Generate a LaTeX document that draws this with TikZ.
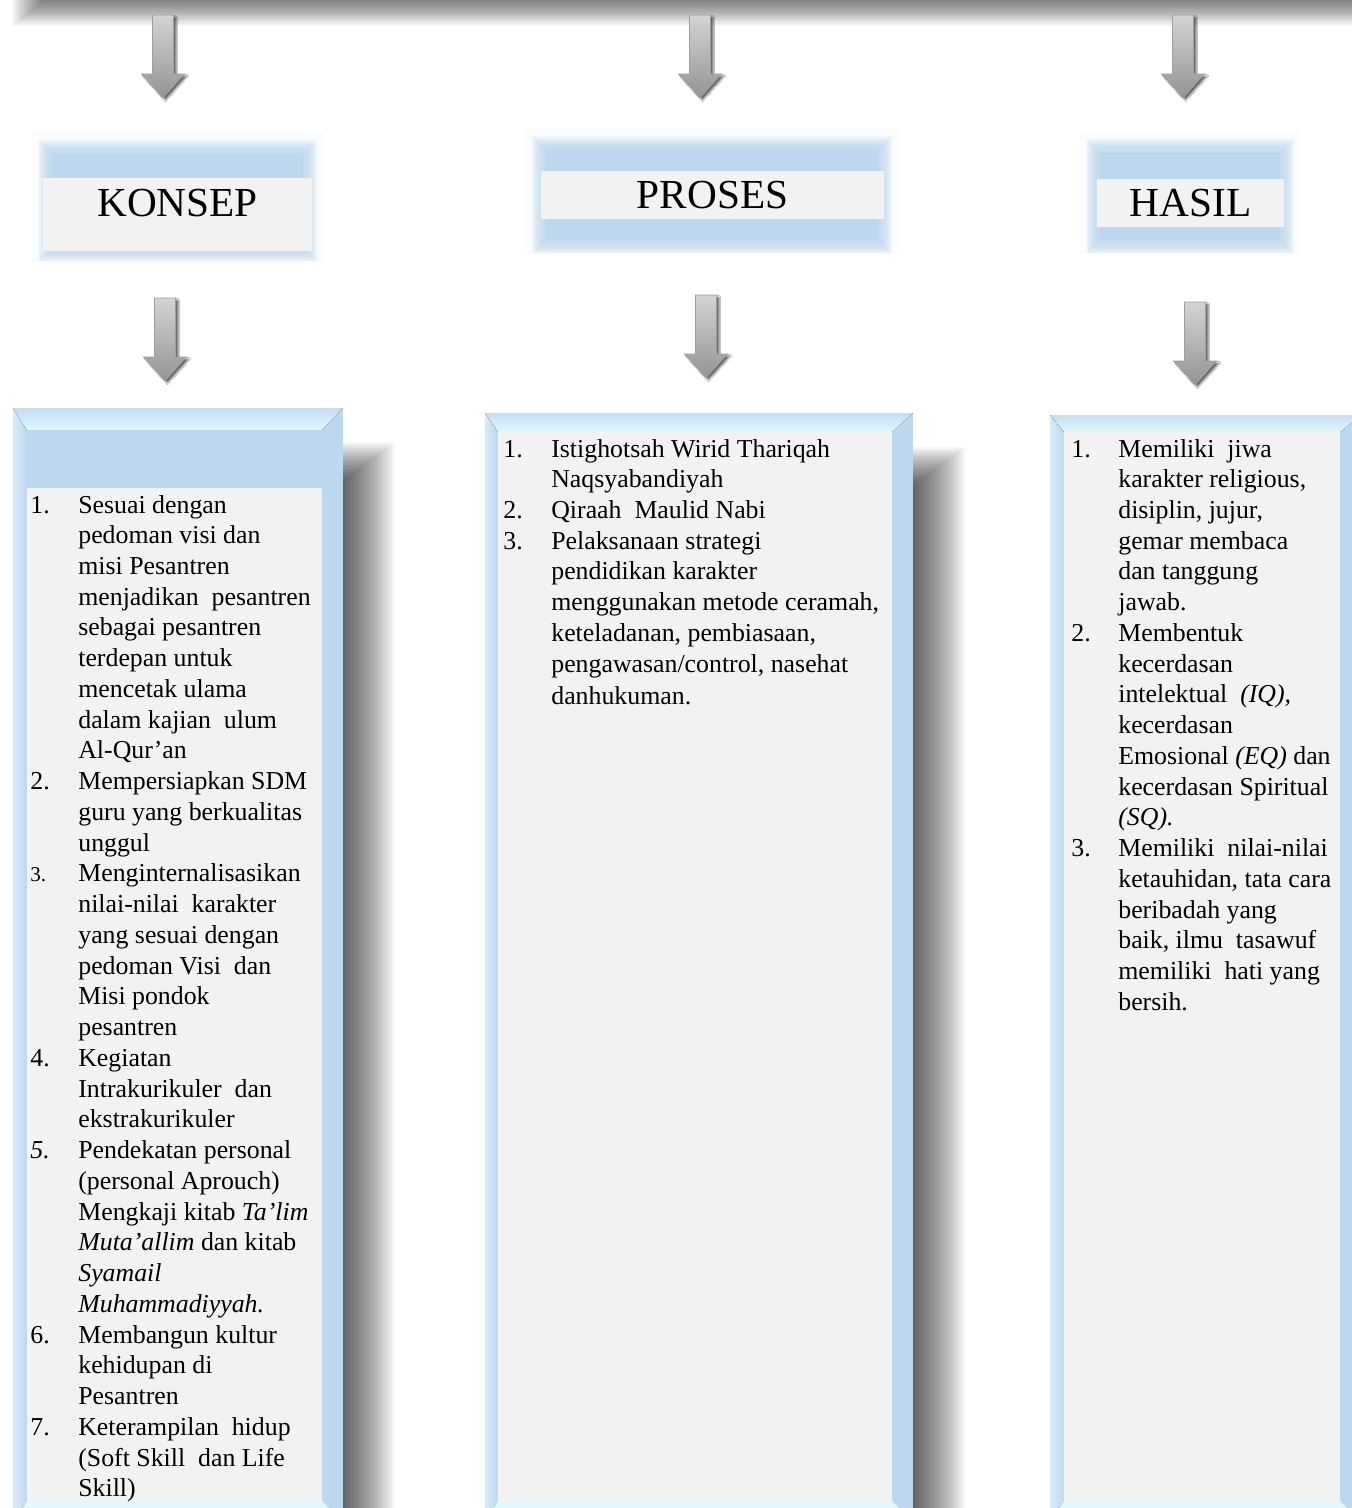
\documentclass[tikz,border=0pt]{standalone}
\usepackage{fontspec}
\setmainfont{Liberation Serif}
\usetikzlibrary{shadows,shadows.blur}

\definecolor{frameblue}{HTML}{BDD7EE}
\definecolor{framelight}{HTML}{D8ECFA}
\definecolor{bevellight}{HTML}{E2F7FF}
\definecolor{innergray}{HTML}{F2F2F2}
\definecolor{glowblue}{HTML}{BDD7EE}

\tikzset{
  hdrbox/.style={fill=innergray, inner sep=0pt, font=\fontsize{23.5}{28}\selectfont},
  listtext/.style={anchor=base west, inner sep=0pt, font=\fontsize{14.7}{17.5}\selectfont},
  arrowfill/.style={top color=black!17, bottom color=black!42, draw=black!38, line width=0.4pt,
    blur shadow={shadow xshift=0.05cm, shadow yshift=-0.04cm, shadow blur radius=0.03cm, shadow opacity=60}},
  downarrow/.pic={
    \path[arrowfill] (-10.5,0) -- (10.5,0) -- (10.5,59) -- (21.5,59) -- (0,83)
      -- (-21.5,59) -- (-10.5,59) -- cycle;
  }
}

% blue glow behind a header box: core x1 y1 x2 y2
\newcommand{\hdrglow}[4]{%
  \fill[glowblue!7] (#1-20,#2-22) rectangle (#3+20,#4+14);
  \foreach \d in {14,13,...,1}{
    \fill[glowblue, opacity=0.12] (#1-\d,#2-\d) rectangle (#3+\d,#4+\d);
  }
  \fill[glowblue] (#1,#2) rectangle (#3,#4);
}

% soft shadow right of a frame: right x, top y, bottom y
\newcommand{\boxshadow}[3]{%
  \foreach \k in {0,...,25}{
    \fill[black, opacity=0.031] (#1-60,#2+34+1.5*\k) rectangle (#1+52-2*\k,#3);
  }
}

% bevelled list frame: outer x1 y1 x2 y2, inner x1 y1 x2 y2
\newcommand{\listframe}[8]{%
  \boxshadow{#3}{#2}{#4}
  \fill[frameblue] (#1,#2) rectangle (#3,#4);
  \fill[left color=framelight, right color=frameblue] (#1,#2) -- (#5,#6) -- (#5,#8) -- (#1,#4) -- cycle;
  \fill[top color=frameblue!85!white, bottom color=bevellight] (#1,#2) -- (#3,#2) -- (#7,#6) -- (#5,#6) -- cycle;
  \fill[bevellight] (#5,#8) -- (#7,#8) -- (#3,#4) -- (#1,#4) -- cycle;
  \fill[innergray] (#5,#6) rectangle (#7,#8);
}

\begin{document}
\begin{tikzpicture}[x=0.02cm, y=-0.02cm]
  \useasboundingbox (0,0) rectangle (1352,1508);
  \fill[white] (0,0) rectangle (1352,1508);

  % shadow along the top edge
  \foreach \k in {0,...,20}{
    \fill[black, opacity=0.027] (12+1.5*\k,0) rectangle (1352,26-1.2*\k);
  }

  % headers
  \hdrglow{52}{154}{303}{248}
  \hdrglow{546}{150}{878}{240}
  \hdrglow{1100}{153}{1280}{240}

  \node[hdrbox, minimum width=5.38cm, minimum height=1.46cm, text depth=0.46cm] (konsepHead) at (177.5,214.5) {KONSEP};
  \node[hdrbox, minimum width=6.86cm, minimum height=0.96cm] (prosesHead) at (712.5,195) {PROSES};
  \node[hdrbox, minimum width=3.74cm, minimum height=0.96cm] (hasilHead) at (1190.5,203) {HASIL};

  % arrows
  \pic at (163,15) {downarrow};
  \pic at (700,15) {downarrow};
  \pic at (1183,15) {downarrow};
  \pic at (165,298) {downarrow};
  \pic at (706,295) {downarrow};
  \pic at (1195,302) {downarrow};

  % list frames
  \listframe{13}{408}{343}{1522}{27}{430}{322}{1501}
  \fill[frameblue] (27,430) rectangle (322,488);
  \listframe{485}{413}{913}{1522}{498}{432}{892}{1501}
  \listframe{1050}{415}{1361}{1522}{1064}{432}{1340}{1501}

  \node[listtext] (konsepList) at (30,513) {%
    \begin{tabular}[t]{@{}p{0.96cm}@{}l@{}}
      1. & Sesuai dengan\\
         & pedoman visi dan\\
         & misi Pesantren\\
         & menjadikan\ \ pesantren\\
         & sebagai pesantren\\
         & terdepan untuk\\
         & mencetak ulama\\
         & dalam kajian\ \ ulum\\
         & Al-Qur’an\\
      2. & Mempersiapkan SDM\\
         & guru yang berkualitas\\
         & unggul\\
      {\fontsize{12}{17.5}\selectfont 3.} & Menginternalisasikan\\
         & nilai-nilai\ \ karakter\\
         & yang sesuai dengan\\
         & pedoman Visi\ \ dan\\
         & Misi pondok\\
         & pesantren\\
      4. & Kegiatan\\
         & Intrakurikuler\ \ dan\\
         & ekstrakurikuler\\
      \textit{5.} & Pendekatan personal\\
         & (personal Aprouch)\\
         & Mengkaji kitab \textit{Ta’lim}\\
         & \textit{Muta’allim} dan kitab\\
         & \textit{Syamail}\\
         & \textit{Muhammadiyyah.}\\
      6. & Membangun kultur\\
         & kehidupan di\\
         & Pesantren\\
      7. & Keterampilan\ \ hidup\\
         & (Soft Skill\ \ dan Life\\
         & Skill)
    \end{tabular}};

  \node[listtext] (prosesList) at (503,457) {%
    \begin{tabular}[t]{@{}p{0.96cm}@{}l@{}}
      1. & Istighotsah Wirid Thariqah\\
         & Naqsyabandiyah\\
      2. & Qiraah\ \ Maulid Nabi\\
      3. & Pelaksanaan strategi\\
         & pendidikan karakter\\
         & menggunakan metode ceramah,\\
         & keteladanan, pembiasaan,\\
         & pengawasan/control, nasehat\\[1pt]
         & danhukuman.
    \end{tabular}};

  \node[listtext] (hasilList) at (1071,457) {%
    \begin{tabular}[t]{@{}p{0.94cm}@{}l@{}}
      1. & Memiliki\ \ jiwa\\
         & karakter religious,\\
         & disiplin, jujur,\\
         & gemar membaca\\
         & dan tanggung\\
         & jawab.\\
      2. & Membentuk\\
         & kecerdasan\\
         & intelektual\ \ \textit{(IQ),}\\
         & kecerdasan\\
         & Emosional \textit{(EQ)} dan\\
         & kecerdasan Spiritual\\
         & \textit{(SQ).}\\
      3. & Memiliki\ \ nilai-nilai\\
         & ketauhidan, tata cara\\
         & beribadah yang\\
         & baik, ilmu\ \ tasawuf\\
         & memiliki\ \ hati yang\\
         & bersih.
    \end{tabular}};
\end{tikzpicture}
\end{document}
